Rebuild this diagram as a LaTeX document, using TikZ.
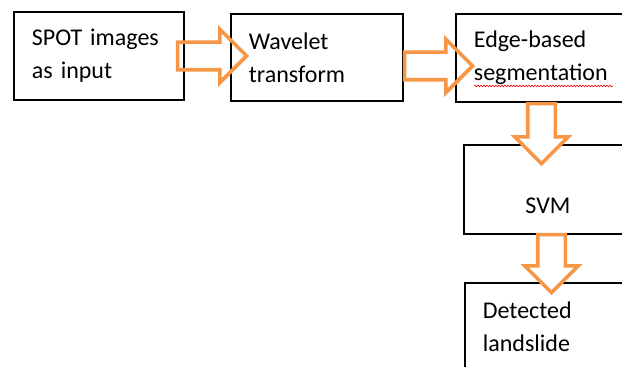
\documentclass[tikz,border=0pt]{standalone}
\usepackage{fontspec}
\setmainfont{Carlito}
\usetikzlibrary{shapes.arrows,calc,decorations.pathmorphing}
\definecolor{arroworange}{RGB}{247,150,70}
\tikzset{
  stagebox/.style={draw=black, line width=1.8pt, rectangle, anchor=north west,
    inner xsep=18pt, align=left, font=\fontsize{24}{33}\selectfont},
  blockarrow/.style={single arrow, draw=arroworange, line width=3.6pt,
    inner sep=12pt, single arrow head extend=13pt, single arrow head indent=0pt}
}
\begin{document}
\begin{tikzpicture}[x=1pt,y=-1pt]
\useasboundingbox (0,0) rectangle (622,367);
\clip (0,0) rectangle (622,367);
% Boxes of the top row
              \node[stagebox, minimum width=170pt, minimum height=88pt, text width=134pt] (spot) at (13,11) {SPOT images\\as input};
              \node[stagebox, minimum width=172pt, minimum height=87pt, text width=136pt] (wavelet) at (230,13) {Wavelet\\transform};
              \node[stagebox, minimum width=190pt, minimum height=88pt, text width=154pt] (edge) at (455,13) {Edge-based\\segmentation};
% Spelling mark under the second line
              \draw[red, line width=0.6pt, decorate, decoration={snake, amplitude=0.8pt, segment length=3pt}] (474,86) -- (613,86);
% Boxes of the right column
              \node[stagebox, minimum width=168pt, minimum height=89pt, text width=132pt, align=center, text height=49pt, text depth=0pt] (svm) at (463,144) {SVM};
              \node[stagebox, minimum width=168pt, minimum height=88pt, text width=132pt] (detected) at (464,282) {Detected\\landslide};
% Block arrows between the boxes
              \node[blockarrow, minimum height=69pt, anchor=tail] (a1) at ($(spot.east)+(-9,0)$) {};
              \node[blockarrow, minimum height=68pt, anchor=tail] (a2) at ($(wavelet.east)+(-1,8.5)$) {};
              \node[blockarrow, fill=white, shape border rotate=270, minimum height=60pt, anchor=tail] (a3) at ($(edge.south west)+(86.5,-1)$) {};
              \node[blockarrow, fill=white, shape border rotate=270, minimum height=58pt, anchor=tail] (a4) at ($(svm.south west)+(88.5,-2)$) {};
\end{tikzpicture}
\end{document}
